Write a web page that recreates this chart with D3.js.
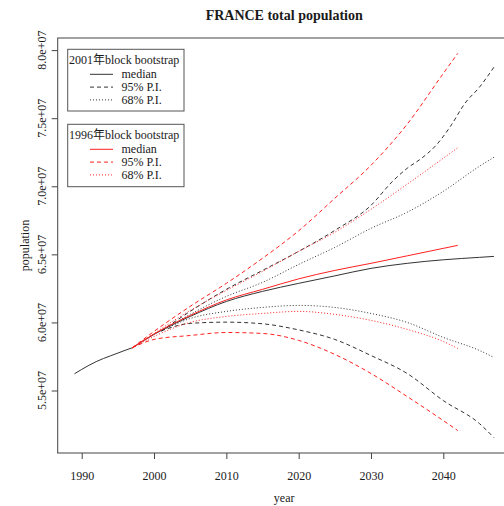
<!DOCTYPE html>
<html><head><meta charset="utf-8">
<script src="https://cdn.jsdelivr.net/npm/d3@7"></script>
<style>
body{margin:0;background:#fff;}
svg{display:block;font-family:"Liberation Serif","Noto Sans CJK SC",serif;}
</style></head>
<body><svg id="chart" width="504" height="506"></svg>
<script>
// ---- data (population in millions) ----
const histYears = [1989,1990,1991,1992,1993,1994,1995,1996,1997];
const histPop   = [56.23,56.55,56.85,57.12,57.35,57.55,57.75,57.95,58.14];

const blackMedianYears = [1997,2000,2005,2010,2015,2020,2025,2030,2035,2040,2045,2047];
const blackMedian      = [58.14,59.12,60.44,61.54,62.28,62.87,63.42,63.97,64.34,64.60,64.78,64.85];

const black95UpYears = [2001,2005,2010,2015,2020,2025,2030,2033,2035,2037,2039,2041,2043,2045,2047];
const black95Up      = [59.38,60.81,62.43,63.82,65.22,66.76,68.60,70.37,71.32,72.06,73.01,74.41,76.10,77.28,78.75];

const blackBandYears = [2001,2005,2010,2015,2020,2025,2030,2035,2040,2045,2047];
const black68Up = [59.38,60.59,61.91,62.94,64.26,65.51,66.91,68.09,69.63,71.47,72.13];
const black68Lo = [59.38,60.29,60.81,61.10,61.25,61.10,60.66,60.00,58.90,57.94,57.43];
const black95Lo = [59.38,59.93,60.02,59.90,59.45,58.75,57.57,56.25,54.26,52.57,51.54];

const redYears  = [1997,2000,2005,2010,2015,2020,2025,2030,2035,2040,2042];
const redMedian = [58.14,59.15,60.51,61.65,62.43,63.20,63.82,64.34,64.89,65.44,65.66];
const red95Up   = [58.14,59.34,61.18,62.87,64.71,66.73,69.12,71.54,74.56,78.29,79.76];
const red68Up   = [58.14,59.19,60.88,62.35,63.75,65.22,66.62,68.31,70.15,72.06,72.83];
const red68Lo   = [58.14,58.97,60.00,60.44,60.66,60.81,60.59,60.15,59.49,58.60,58.09];
const red95Lo   = [58.14,58.75,59.04,59.26,59.19,58.68,57.65,56.25,54.56,52.79,52.06];

const xTicks = [1990,2000,2010,2020,2030,2040];
const yTicks = [55,60,65,70,75,80];
const yTickLabels = ["5.5e+07","6.0e+07","6.5e+07","7.0e+07","7.5e+07","8.0e+07"];

const legendGroups = [
  {title:"2001年block bootstrap", color:"#333", items:["median","95% P.I.","68% P.I."]},
  {title:"1996年block bootstrap", color:"#ff2020", items:["median","95% P.I.","68% P.I."]}
];

// ---- layout ----
const svg = d3.select("#chart");
const L = 57.7, R = 510.7, T = 38, B = 453;
const x = d3.scaleLinear().domain([1986.68, 2049.32]).range([L, R]);
const y = d3.scaleLinear().domain([50.41, 80.89]).range([B, T]);

const txt = "#1a1a1a";
const dash = {solid:null, dashed:"4,3", dotted:"1,2"};

svg.append("defs").append("clipPath").attr("id","clip")
  .append("rect").attr("x",L).attr("y",T).attr("width",R-L).attr("height",B-T);

const line = d3.line().x(d=>x(d[0])).y(d=>y(d[1])).curve(d3.curveMonotoneX);
const g = svg.append("g").attr("clip-path","url(#clip)");
function draw(years, vals, color, style){
  g.append("path").datum(years.map((yr,i)=>[yr,vals[i]]))
   .attr("d", line).attr("fill","none").attr("stroke",color)
   .attr("stroke-width",1).attr("stroke-dasharray",dash[style]);
}
const blk = "#333", red = "#ff2020";
draw(histYears, histPop, blk, "solid");
draw(blackMedianYears, blackMedian, blk, "solid");
draw(black95UpYears, black95Up, blk, "dashed");
draw(blackBandYears, black95Lo, blk, "dashed");
draw(blackBandYears, black68Up, blk, "dotted");
draw(blackBandYears, black68Lo, blk, "dotted");
draw(redYears, redMedian, red, "solid");
draw(redYears, red95Up, red, "dashed");
draw(redYears, red95Lo, red, "dashed");
draw(redYears, red68Up, red, "dotted");
draw(redYears, red68Lo, red, "dotted");

// box
svg.append("rect").attr("x",L).attr("y",T).attr("width",R-L).attr("height",B-T)
  .attr("fill","none").attr("stroke","#444").attr("stroke-width",1);

// x axis
const xAxis = svg.append("g").attr("transform",`translate(0,${B})`)
  .call(d3.axisBottom(x).tickValues(xTicks).tickFormat(d3.format("d")).tickSize(6).tickPadding(12));
xAxis.select(".domain").remove();
xAxis.selectAll(".tick line").attr("stroke","#444");
xAxis.selectAll(".tick text").attr("font-family","Liberation Serif").attr("font-size",12).attr("fill",txt);

// y axis
const yAxis = svg.append("g").attr("transform",`translate(${L},0)`)
  .call(d3.axisLeft(y).tickValues(yTicks).tickSize(6).tickFormat(""));
yAxis.select(".domain").remove();
yAxis.selectAll(".tick line").attr("stroke","#444");
svg.append("g").selectAll("text").data(yTicks).join("text")
  .attr("transform",(d)=>`translate(46,${y(d)}) rotate(-90)`)
  .attr("text-anchor","middle").attr("font-size",12).attr("fill",txt)
  .text((d,i)=>yTickLabels[i]);

// titles
svg.append("text").attr("x",(L+R)/2).attr("y",20).attr("text-anchor","middle")
  .attr("font-size",14).attr("font-weight","bold").attr("fill",txt).text("FRANCE total population");
svg.append("text").attr("x",(L+R)/2).attr("y",502).attr("text-anchor","middle")
  .attr("font-size",12).attr("fill",txt).text("year");
svg.append("text").attr("transform",`translate(29,${(T+B)/2}) rotate(-90)`).attr("text-anchor","middle")
  .attr("font-size",12).attr("fill",txt).text("population");

// legends
const styles = ["solid","dashed","dotted"];
const boxes = [{y0:49.3, y1:111},{y0:124.3, y1:186.7}];
legendGroups.forEach((lg,gi)=>{
  const b = boxes[gi];
  const lgG = svg.append("g");
  lgG.append("rect").attr("x",67.7).attr("y",b.y0).attr("width",116.3).attr("height",b.y1-b.y0)
    .attr("fill","#fff").attr("stroke","#555").attr("stroke-width",1);
  lgG.append("text").attr("x",69).attr("y",b.y0+15).attr("font-size",12).attr("fill",txt).text(lg.title);
  lg.items.forEach((it,i)=>{
    const yy = b.y0 + 25 + i*12.8;
    lgG.append("line").attr("x1",90).attr("x2",113).attr("y1",yy).attr("y2",yy)
      .attr("stroke", lg.color).attr("stroke-width",1).attr("stroke-dasharray",dash[styles[i]]);
    lgG.append("text").attr("x",121.5).attr("y",yy+4).attr("font-size",12).attr("fill",txt).text(it);
  });
});
</script></body></html>
